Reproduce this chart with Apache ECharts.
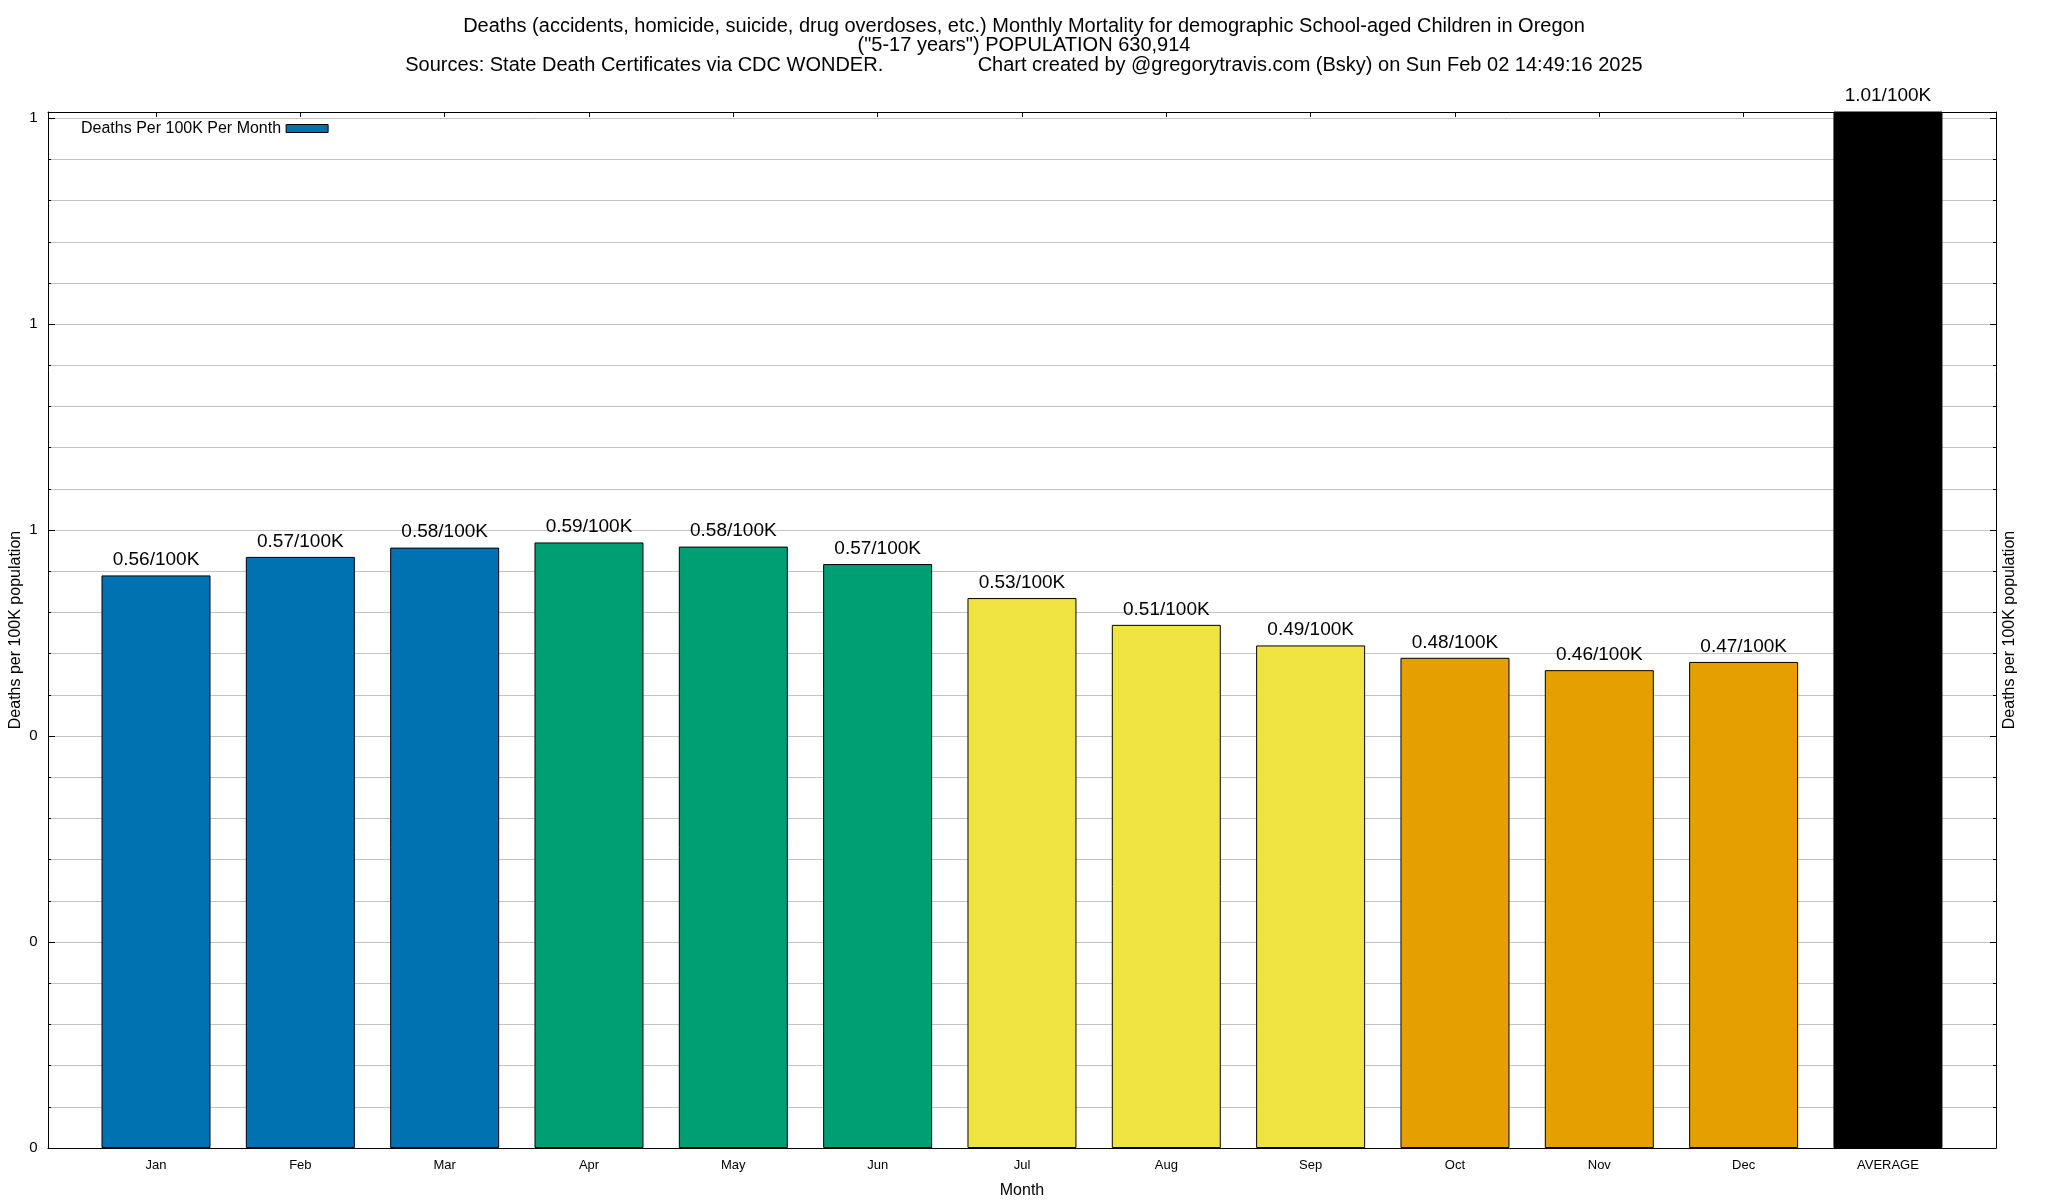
<!DOCTYPE html>
<html><head><meta charset="utf-8">
<script src="https://cdn.jsdelivr.net/npm/echarts@6/dist/echarts.min.js"></script>
<style>html,body{margin:0;padding:0;background:#fff}#c{width:2048px;height:1200px}</style>
</head><body><div id="c"></div>
<script>
// ---- data ----
const months = ['Jan','Feb','Mar','Apr','May','Jun','Jul','Aug','Sep','Oct','Nov','Dec','AVERAGE'];
const values = [0.556,0.574,0.583,0.588,0.584,0.567,0.534,0.508,0.488,0.476,0.464,0.472,1.01];
const seriesName = 'Deaths Per 100K Per Month';
const titleLines = [
  'Deaths (accidents, homicide, suicide, drug overdoses, etc.) Monthly Mortality for demographic School-aged Children in Oregon',
  '("5-17 years") POPULATION 630,914',
  'Sources: State Death Certificates via CDC WONDER.                 Chart created by @gregorytravis.com (Bsky) on Sun Feb 02 14:49:16 2025'
];
const yAxisName = 'Deaths per 100K population';
const xAxisName = 'Month';
const yMin = 0, yMax = 1.006, yStep = 0.2;

// ---- style ----
const barColors = ['#0072b2','#0072b2','#0072b2','#009e73','#009e73','#009e73','#f0e442','#f0e442','#f0e442','#e69f00','#e69f00','#e69f00','#000000'];
const FONT = '"Liberation Sans", Arial, Helvetica, sans-serif';
const GRIDC = '#c4c4c4';
const titleTops = [16.3, 35.8, 55.3];

const chart = echarts.init(document.getElementById('c'), null, {renderer:'canvas'});
const outer = {left:48, top:112, width:1948, height:1036};
const pitch = 144.33;
const inner = {left: 156 - pitch/2, top:112, width: pitch*months.length, height:1036};

const yLabelFmt = v => (Math.abs(v/yStep - Math.round(v/yStep)) < 1e-6) ? Math.round(v).toFixed(0) : '';
const frameLine = () => ({show:true, onZero:false, lineStyle:{color:'#000', width:1}});

chart.setOption({
  animation:false,
  backgroundColor:'#fff',
  title: titleLines.map((t,i)=>({
    text:t, left:'center', top:titleTops[i], padding:0,
    textStyle:{fontFamily:FONT, fontSize:20, fontWeight:'normal', color:'#000', lineHeight:20}
  })),
  legend:{
    left:81, top:120.5, padding:0, align:'right', icon:'rect', itemWidth:42, itemHeight:8,
    selectedMode:false,
    textStyle:{fontFamily:FONT, fontSize:16, color:'#000'},
    itemStyle:{borderColor:'#000', borderWidth:1},
    data:[seriesName]
  },
  grid:[
    Object.assign({containLabel:false, outerBoundsMode:'none'}, outer),
    Object.assign({containLabel:false, outerBoundsMode:'none'}, inner)
  ],
  xAxis:[
    {gridIndex:0, type:'value', min:0, max:1, position:'bottom', z:3,
     axisLine:frameLine(), axisTick:{show:false}, axisLabel:{show:false}, splitLine:{show:false},
     name:xAxisName, nameLocation:'middle', nameGap:35, nameMoveOverlap:false,
     nameTextStyle:{fontFamily:FONT, fontSize:16, color:'#000'}},
    {gridIndex:0, type:'value', min:0, max:1, position:'top', z:3,
     axisLine:frameLine(), axisTick:{show:false}, axisLabel:{show:false}, splitLine:{show:false}},
    {gridIndex:1, type:'category', data:months, position:'bottom',
     axisLine:{show:false, onZero:false}, axisTick:{show:false},
     axisLabel:{show:true, margin:10.5, fontFamily:FONT, fontSize:13, color:'#000', interval:0}},
    {gridIndex:1, type:'category', data:months, position:'top', z:3,
     axisLine:{show:false, onZero:false}, axisTick:{show:true, inside:true, length:5, alignWithLabel:true, lineStyle:{color:'#000'}}, axisLabel:{show:false}}
  ],
  yAxis:[
    {gridIndex:0, type:'value', min:yMin, max:yMax, interval:yStep, position:'left',
     axisLine:frameLine(),
     axisTick:{show:true, inside:true, length:7, lineStyle:{color:'#000'}},
     minorTick:{show:true, splitNumber:5, length:3, lineStyle:{color:'#000'}},
     splitLine:{show:true, showMinLine:false, showMaxLine:false, lineStyle:{color:GRIDC, width:1}},
     minorSplitLine:{show:true, lineStyle:{color:GRIDC, width:1}},
     axisLabel:{show:true, margin:10.5, fontFamily:FONT, fontSize:15, color:'#000', formatter:yLabelFmt, showMaxLabel:false},
     name:yAxisName, nameLocation:'middle', nameGap:24, nameRotate:90, nameMoveOverlap:false,
     nameTextStyle:{fontFamily:FONT, fontSize:16, color:'#000'}},
    {gridIndex:0, type:'value', min:yMin, max:yMax, interval:yStep, position:'right', z:3,
     axisLine:frameLine(),
     axisTick:{show:true, inside:true, length:6, lineStyle:{color:'#000'}},
     minorTick:{show:true, splitNumber:5, length:3, lineStyle:{color:'#000'}},
     splitLine:{show:false}, axisLabel:{show:false},
     name:yAxisName, nameLocation:'middle', nameGap:6, nameRotate:90, nameMoveOverlap:false,
     nameTextStyle:{fontFamily:FONT, fontSize:16, color:'#000'}},
    {gridIndex:1, type:'value', min:yMin, max:yMax, interval:yStep, show:false}
  ],
  series:[{
    name:seriesName, type:'bar', xAxisIndex:2, yAxisIndex:2,
    barWidth:109, clip:true,
    itemStyle:{color:barColors[0], borderColor:'#000', borderWidth:1},
    data: values.map((v,i)=>({value:v, itemStyle:{color:barColors[i]}})),
    label:{show:true, position:'top', distance:6, fontFamily:FONT, fontSize:19, color:'#000',
      formatter:p=>p.value.toFixed(2)+'/100K'}
  }]
});
</script>
</body></html>
